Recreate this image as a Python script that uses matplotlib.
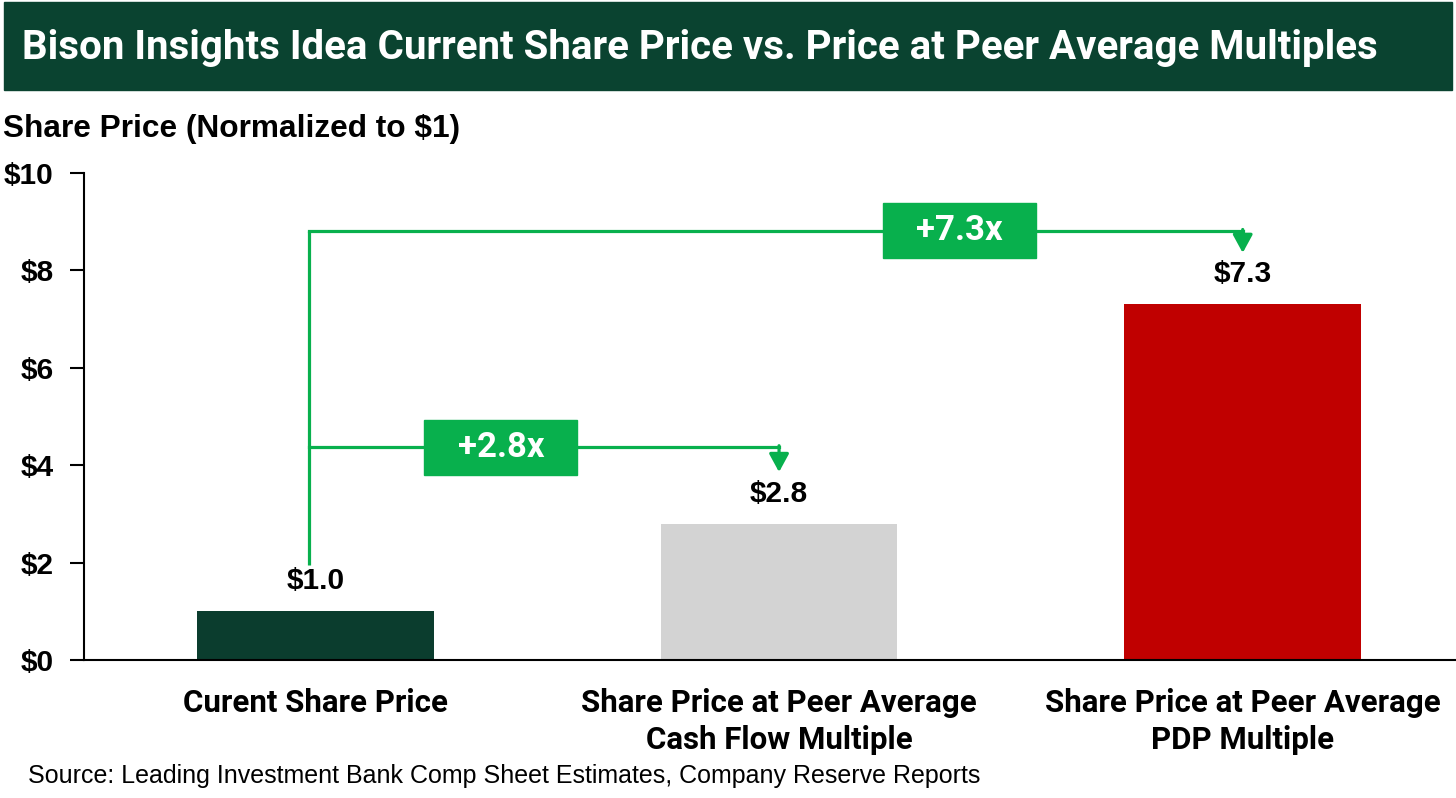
import matplotlib.pyplot as plt
from matplotlib.patches import Rectangle

# Data
categories = ['Curent Share Price',
              'Share Price at Peer Average\nCash Flow Multiple',
              'Share Price at Peer Average\nPDP Multiple']
prices = [1.0, 2.8, 7.3]
value_labels = ['$1.0', '$2.8', '$7.3']
multiple_labels = ['+2.8x', '+7.3x']
y_ticks = [0, 2, 4, 6, 8, 10]
y_tick_labels = ['$0', '$2', '$4', '$6', '$8', '$10']

bar_colors = ['#0B3D2E', '#D3D3D3', '#C00000']
dark_green = '#0A4330'
line_green = '#08B04D'

W, H = 1456, 798
fig = plt.figure(figsize=(W / 100, H / 100), dpi=100)


def fx(px):
    return px / W


def fy(py):
    return 1 - py / H


# title bar
fig.patches.append(Rectangle((fx(4), fy(90)), fx(1448), 88 / H,
                             transform=fig.transFigure, color=dark_green, zorder=0))
fig.text(fx(22), fy(48), 'Bison Insights Idea Current Share Price vs. Price at Peer Average Multiples',
         color='white', fontsize=29, fontweight='bold', family='Roboto',
         ha='left', va='center')

fig.text(fx(3), fy(129), 'Share Price (Normalized to $1)', fontsize=22.8,
         fontweight='bold', family='Liberation Sans', ha='left', va='center')

fig.text(fx(28), fy(776), 'Source: Leading Investment Bank Comp Sheet Estimates, Company Reserve Reports',
         fontsize=18, family='Liberation Sans', ha='left', va='center')

# axes
ax = fig.add_axes([fx(84), fy(660), fx(1456 - 84), 487 / H])
x = range(len(prices))
ax.bar(x, prices, width=0.51, color=bar_colors, zorder=2)
ax.set_xlim(-0.499, 2.46)
ax.set_ylim(0, 10)
ax.set_yticks(y_ticks)
ax.set_yticklabels(y_tick_labels, fontsize=21.5, fontweight='bold', family='Liberation Sans')
ax.set_xticks(list(x))
ax.set_xticklabels(categories, fontsize=22.5, fontweight='bold', family='Roboto',
                   linespacing=1.3)
ax.tick_params(axis='x', length=0, pad=20)
ax.tick_params(axis='y', length=10, width=1.5, pad=12)
for s in ['top', 'right']:
    ax.spines[s].set_visible(False)
ax.spines['left'].set_linewidth(1.5)
ax.spines['bottom'].set_linewidth(1.5)

for i, (v, lab) in enumerate(zip(prices, value_labels)):
    ax.text(i, v + 0.33, lab, ha='center', va='bottom', fontsize=21.5,
            fontweight='bold', family='Liberation Sans')

# connectors from current price to each multiple bar
x0 = -0.014
levels = [4.37, 8.81]
box_x = [0.40, 1.39]
box_w, box_h = 0.33, 1.13
ax.plot([x0, x0], [prices[0] + 0.95, levels[1]], color=line_green, lw=2.3, zorder=3,
        solid_capstyle='butt')
for j, tgt in enumerate([1, 2]):
    lvl = levels[j]
    tip = prices[tgt] + 1.06
    ax.plot([x0, tgt], [lvl, lvl], color=line_green, lw=2.3, zorder=3,
            solid_joinstyle='miter')
    ax.annotate('', xy=(tgt, tip), xytext=(tgt, lvl + 0.03),
                arrowprops=dict(arrowstyle='-|>,head_length=0.55,head_width=0.3',
                                color=line_green, lw=2.3,
                                mutation_scale=20, shrinkA=0, shrinkB=0),
                zorder=3)
    ax.add_patch(Rectangle((box_x[j] - box_w / 2, lvl - box_h / 2), box_w, box_h,
                           color=line_green, zorder=4))
    ax.text(box_x[j], lvl, multiple_labels[j], ha='center', va='center',
            color='white', fontsize=25, fontweight='bold', family='Roboto', zorder=5)

fig.savefig('out.png', dpi=100)
